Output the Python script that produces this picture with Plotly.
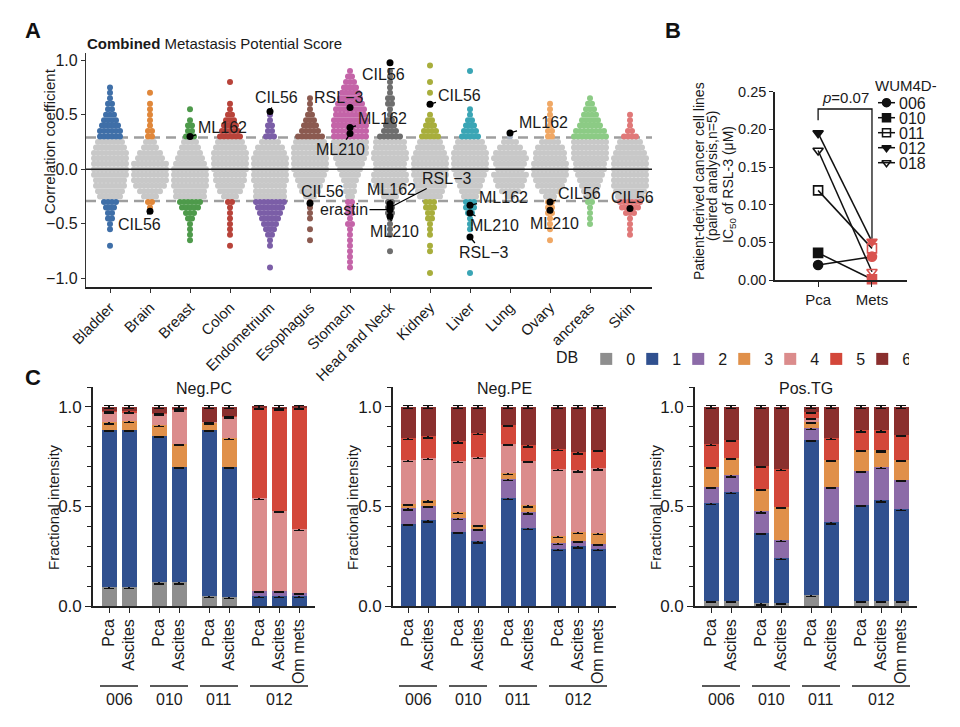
import plotly.graph_objects as go

FONT = "Liberation Sans, Arial, Helvetica, sans-serif"
INK = "#1a1a1a"

# ---------------- Panel A data ----------------
TISSUES = ["Bladder", "Brain", "Breast", "Colon", "Endometrium", "Esophagus", "Stomach",
           "Head and Neck", "Kidney", "Liver", "Lung", "Ovary", "ancreas", "Skin"]
TISSUE_COLORS = ["#3F6FA8", "#E0873A", "#4E9A4B", "#B8433A", "#7B5EA7", "#8B5A50", "#C464A8",
                 "#6E6E6E", "#A8AE3C", "#3AA5B5", "#AAB4C4", "#F0A865", "#8CCB85", "#E07878"]
GRAY = "#C8C8C8"
THRESH = 0.29
BIN = 0.05
# number of cell lines per correlation bin (bin width 0.05), starting from SWARM_START
SWARM_START = [-0.70, -0.35, -0.65, -0.70, -0.90, -0.65, -0.90, -0.75, -0.95, -0.95, -0.25, -0.65, -0.50, -0.60]
SWARM_COUNTS = [
    [1, 0, 0, 1, 1, 2, 2, 3, 4, 6, 7, 8, 8, 9, 9, 9, 9, 9, 8, 7, 6, 6, 5, 4, 3, 2, 2, 1, 1, 1],
    [1, 2, 4, 6, 8, 9, 9, 9, 9, 7, 6, 4, 3, 2, 2, 1, 1, 1, 1, 1, 0, 1],
    [1, 1, 1, 1, 2, 3, 5, 6, 8, 8, 9, 9, 9, 9, 8, 7, 6, 5, 4, 3, 2, 2, 1, 0, 1],
    [1, 0, 1, 1, 1, 1, 1, 1, 2, 4, 6, 7, 8, 8, 9, 9, 9, 9, 8, 7, 6, 5, 4, 3, 2, 1, 1, 0, 0, 0, 1],
    [1, 0, 0, 0, 1, 1, 2, 3, 4, 5, 6, 7, 8, 8, 8, 8, 9, 9, 9, 9, 9, 8, 7, 5, 3, 2, 2, 1, 1],
    [1, 0, 1, 0, 1, 1, 1, 1, 3, 5, 6, 7, 8, 9, 9, 9, 9, 9, 8, 7, 5, 4, 3, 2, 1, 1, 1],
    [1, 1, 1, 1, 1, 1, 1, 1, 2, 1, 2, 2, 2, 2, 3, 3, 4, 5, 6, 7, 8, 9, 9, 9, 9, 9, 9, 9, 8, 8, 7, 6, 5, 4, 3, 2, 1],
    [1, 0, 0, 1, 1, 1, 1, 2, 2, 2, 4, 6, 8, 9, 9, 8, 8, 9, 9, 8, 8, 6, 4, 3, 2, 1, 1, 2, 2, 1, 1, 1, 1, 1],
    [1, 0, 0, 0, 1, 1, 0, 1, 1, 1, 2, 2, 3, 3, 6, 7, 8, 8, 9, 9, 9, 9, 8, 7, 6, 5, 4, 3, 2, 1, 0, 0, 0, 1, 0, 1, 0, 0, 1],
    [1, 0, 0, 0, 0, 0, 0, 0, 1, 1, 1, 2, 3, 3, 4, 5, 6, 7, 8, 9, 9, 9, 9, 8, 7, 5, 4, 3, 2, 1, 1, 0, 0, 0, 0, 0, 0, 1],
    [2, 5, 7, 8, 9, 7, 8, 9, 8, 6, 4, 1],
    [1, 0, 1, 1, 1, 2, 2, 2, 3, 5, 7, 8, 9, 9, 9, 8, 8, 7, 5, 2, 2, 1, 1, 1, 1, 1],
    [1, 1, 1, 1, 2, 3, 4, 5, 6, 7, 8, 8, 9, 9, 9, 9, 9, 8, 6, 5, 4, 3, 2, 1],
    [1, 1, 1, 1, 3, 5, 6, 7, 8, 9, 9, 9, 9, 9, 9, 8, 7, 6, 4, 2, 1, 1, 1],
]
DRUG_TISSUE = ["Brain", "Breast", "Endometrium", "Esophagus", "Stomach", "Stomach", "Stomach",
               "Head and Neck", "Head and Neck", "Head and Neck", "Head and Neck", "Head and Neck",
               "Kidney", "Liver", "Liver", "Liver", "Lung", "Ovary", "Ovary", "Skin"]
DRUG_NAME = ["CIL56", "ML162", "CIL56", "CIL56", "RSL\u22123", "ML162", "ML210",
             "CIL56", "ML162", "RSL\u22123", "erastin", "ML210",
             "CIL56", "ML162", "ML210", "RSL\u22123", "ML162", "CIL56", "ML210", "CIL56"]
DRUG_R = [-0.385, 0.30, 0.53, -0.31, 0.566, 0.383, 0.327,
          0.975, -0.315, -0.35, -0.37, -0.43,
          0.596, -0.33, -0.40, -0.62, 0.333, -0.30, -0.376, -0.36]
LABEL_OFFSETS = [(-11, 13), (32, -9), (6, -14), (12, -12), (-12, -10), (32, -9), (-10, 16),
                 (-7, 12), (1, -14), (56, -29), (-46, 0), (4, 15),
                 (29, -9), (33, -8), (24, 13), (13, 16), (33, -10), (29, -9), (4, 13), (2, -11)]

# ---------------- Panel B data ----------------
B_PATIENTS = ["006", "010", "011", "012", "018"]
B_GROUPS = ["Pca", "Mets"]
B_PCA = [0.020, 0.036, 0.119, 0.195, 0.172]
B_METS = [0.031, 0.001, 0.042, 0.051, 0.011]
B_SYMBOLS = ["circle", "square", "square-open", "triangle-down", "triangle-down-open"]
B_PVALUE = "<i>p</i>=0.07"

# ---------------- Panel C data ----------------
C_PANELS = ["Neg.PC", "Neg.PE", "Pos.TG"]
C_SAMPLES = ["Pca", "Ascites", "Pca", "Ascites", "Pca", "Ascites", "Pca", "Ascites", "Om mets"]
C_PATIENT = ["006", "006", "010", "010", "011", "011", "012", "012", "012"]
DB_LEVELS = ["0", "1", "2", "3", "4", "5", "6"]
DB_COLORS = ["#8E8E8E", "#30508F", "#8C6BA8", "#E0904A", "#DB8C8C", "#D3473A", "#8A2F2E"]
# cumulative fraction at top of DB0..DB5 (DB6 reaches 1.0)
NEG_PC_TOPS = [
    [0.094, 0.094, 0.119, 0.119, 0.050, 0.044, 0.000, 0.000, 0.000],
    [0.883, 0.883, 0.856, 0.698, 0.883, 0.698, 0.050, 0.050, 0.050],
    [0.883, 0.883, 0.856, 0.698, 0.883, 0.698, 0.077, 0.077, 0.067],
    [0.922, 0.928, 0.908, 0.815, 0.920, 0.844, 0.077, 0.077, 0.067],
    [0.975, 0.973, 0.965, 0.987, 0.925, 0.950, 0.542, 0.478, 0.386],
    [0.980, 0.978, 0.970, 0.990, 0.925, 0.955, 0.995, 0.990, 0.995],
]
NEG_PE_TOPS = [
    [0.000, 0.000, 0.000, 0.000, 0.000, 0.000, 0.000, 0.000, 0.000],
    [0.413, 0.430, 0.374, 0.324, 0.542, 0.391, 0.285, 0.299, 0.285],
    [0.490, 0.503, 0.441, 0.388, 0.638, 0.470, 0.315, 0.329, 0.312],
    [0.513, 0.530, 0.471, 0.408, 0.668, 0.505, 0.352, 0.371, 0.366],
    [0.732, 0.743, 0.727, 0.748, 0.815, 0.730, 0.688, 0.681, 0.691],
    [0.844, 0.852, 0.827, 0.869, 0.911, 0.807, 0.789, 0.772, 0.785],
]
POS_TG_TOPS = [
    [0.027, 0.027, 0.013, 0.017, 0.055, 0.000, 0.027, 0.027, 0.027],
    [0.517, 0.572, 0.369, 0.240, 0.836, 0.420, 0.508, 0.530, 0.487],
    [0.600, 0.656, 0.475, 0.332, 0.894, 0.600, 0.680, 0.698, 0.634],
    [0.700, 0.743, 0.589, 0.497, 0.925, 0.735, 0.785, 0.782, 0.732],
    [0.700, 0.743, 0.589, 0.497, 0.945, 0.735, 0.785, 0.782, 0.732],
    [0.814, 0.835, 0.705, 0.688, 0.975, 0.844, 0.882, 0.882, 0.861],
]
C_TOPS = [NEG_PC_TOPS, NEG_PE_TOPS, POS_TG_TOPS]
C_ERR = 0.007

W, H = 960, 727


def px_x(p):
    return p / W


def px_y(p):
    return 1 - p / H


def paper_text(x, y, text, size=15, angle=0, xanchor="center", **kw):
    fig.add_annotation(x=px_x(x), y=px_y(y), xref="paper", yref="paper", text=text,
                       textangle=angle, showarrow=False, xanchor=xanchor, yanchor="middle",
                       font=dict(size=size, color=kw.pop("color", INK)), **kw)


fig = go.Figure()
fig.update_layout(template="none")

# ======================= Panel A =======================
gx, gy, cx, cy, cc = [], [], [], [], []
for k, (start, counts) in enumerate(zip(SWARM_START, SWARM_COUNTS)):
    for j, n in enumerate(counts):
        r = round(start + BIN * j, 3)
        for i in range(n):
            xv = k + (i - (n - 1) / 2) * 0.1
            if abs(r) > THRESH:
                cx.append(xv); cy.append(r); cc.append(TISSUE_COLORS[k])
            else:
                gx.append(xv); gy.append(r)

fig.add_trace(go.Scatter(x=gx, y=gy, mode="markers", xaxis="x", yaxis="y",
                         marker=dict(size=6, color=GRAY, line=dict(width=0)),
                         showlegend=False, hoverinfo="skip"))
fig.add_trace(go.Scatter(x=cx, y=cy, mode="markers", xaxis="x", yaxis="y",
                         marker=dict(size=6, color=cc, line=dict(width=0)),
                         showlegend=False, hoverinfo="skip"))
dx = [TISSUES.index(t) for t in DRUG_TISSUE]
fig.add_trace(go.Scatter(x=dx, y=DRUG_R, mode="markers", xaxis="x", yaxis="y",
                         marker=dict(size=7, color="black"), showlegend=False, hoverinfo="skip"))
for xi, yi, name, (ox, oy) in zip(dx, DRUG_R, DRUG_NAME, LABEL_OFFSETS):
    fig.add_annotation(x=xi, y=yi, xref="x", yref="y", text=name, showarrow=True,
                       arrowhead=0, arrowwidth=1.3, arrowcolor="black", ax=ox, ay=oy,
                       standoff=0, startstandoff=0, font=dict(size=16, color=INK))

for yv in (THRESH, -THRESH):
    fig.add_shape(type="line", xref="x domain", yref="y", x0=0, x1=1, y0=yv, y1=yv,
                  line=dict(color="#9E9E9E", width=2.5, dash="10px,6px"), layer="below")
fig.add_shape(type="line", xref="x domain", yref="y", x0=0, x1=1, y0=0, y1=0,
              line=dict(color="#222", width=1.6), layer="above")

fig.update_layout(
    xaxis=dict(domain=[px_x(86), px_x(652)], range=[-0.6, 13.55], tickvals=list(range(len(TISSUES))),
               ticktext=TISSUES, tickangle=-45, ticks="outside", ticklen=4, tickcolor="#333",
               showline=True, linecolor="#222", linewidth=2, showgrid=False, zeroline=False,
               tickfont=dict(size=15), anchor="y", automargin=False),
    yaxis=dict(domain=[px_y(287), px_y(53)], range=[-1.078, 1.065], tickvals=[-1, -0.5, 0, 0.5, 1],
               tickformat=".1f", ticks="outside", ticklen=4, tickcolor="#333", showline=True,
               linecolor="#333", linewidth=1.3, showgrid=False, zeroline=False,
               tickfont=dict(size=16), anchor="x", automargin=False),
)
paper_text(50, 141, "Correlation coefficient", size=15, angle=-90)
paper_text(85, 43, "<b>Combined</b> Metastasis Potential Score", size=15, xanchor="left")

# ======================= Panel B =======================
for p, pca, mets, sym in zip(B_PATIENTS, B_PCA, B_METS, B_SYMBOLS):
    cols = ["#111111", "#D9534F"]
    fig.add_trace(go.Scatter(x=[0, 1], y=[pca, mets], mode="lines+markers", xaxis="x2", yaxis="y2",
                             line=dict(color="#111", width=1.5),
                             marker=dict(symbol=sym, size=9, color=cols, line=dict(color=cols, width=1.6)),
                             cliponaxis=False, showlegend=False, hoverinfo="skip", name=p))
# significance bracket
top_pca, top_mets = max(B_PCA), max(B_METS)
fig.add_shape(type="path", xref="x2", yref="y2",
              path=f"M0,{top_pca + 0.017} L0,0.227 L1,0.227 L1,{top_mets + 0.004}",
              line=dict(color="#111", width=1.3))
fig.add_annotation(x=0.5, y=0.228, xref="x2", yref="y2", text=B_PVALUE, showarrow=False,
                   xanchor="center", yanchor="bottom", font=dict(size=15, color=INK))
fig.update_layout(
    xaxis2=dict(domain=[px_x(775), px_x(907)], range=[-0.8, 1.65], tickvals=[0, 1], ticktext=B_GROUPS,
                ticks="outside", ticklen=5, tickcolor="#222", showline=True, linecolor="#222",
                linewidth=1.5, showgrid=False, zeroline=False, tickfont=dict(size=15), anchor="y2",
                automargin=False),
    yaxis2=dict(domain=[px_y(280), px_y(91.7)], range=[0, 0.25], dtick=0.05, tickformat=".2f",
                ticks="outside", ticklen=4, tickcolor="#222", showline=True, linecolor="#222",
                linewidth=1.5, showgrid=False, zeroline=False, tickfont=dict(size=14.5), anchor="x2",
                automargin=False),
)
paper_text(699, 181, "Patient-derived cancer cell lines", size=14, angle=-90)
paper_text(712, 176, "(paired analysis,n=5)", size=14, angle=-90)
paper_text(729, 185, "IC<sub>50</sub> of RSL-3 (\u03bcM)", size=14, angle=-90)

# custom legend for panel B (hidden helper axis, pixel units)
fig.update_layout(
    xaxis6=dict(domain=[px_x(873), px_x(945)], range=[0, 72], visible=False, fixedrange=True,
                anchor="y6", automargin=False),
    yaxis6=dict(domain=[px_y(172), px_y(78)], range=[94, 0], visible=False, fixedrange=True,
                anchor="x6", automargin=False),
)
fig.add_annotation(x=0, y=8, xref="x6", yref="y6", text="WUM4D-", xanchor="left", yanchor="middle",
                   showarrow=False, height=15, font=dict(size=15, color=INK))
for i, (p, sym) in enumerate(zip(B_PATIENTS, B_SYMBOLS)):
    row = 24.7 + 15 * i
    fig.add_trace(go.Scatter(x=[5, 22], y=[row, row], mode="lines", xaxis="x6", yaxis="y6",
                             line=dict(color="#111", width=1.5), showlegend=False, hoverinfo="skip"))
    fig.add_trace(go.Scatter(x=[13.5], y=[row], mode="markers", xaxis="x6", yaxis="y6",
                             marker=dict(symbol=sym, size=8, color="#111", line=dict(color="#111", width=1.5)),
                             showlegend=False, hoverinfo="skip", cliponaxis=False))
    fig.add_annotation(x=24, y=row, xref="x6", yref="y6", text=p, xanchor="left", yanchor="middle",
                       showarrow=False, height=14, font=dict(size=16, color=INK))

# ======================= Panel C =======================
# bar positions: 1 unit within a patient, 1.5 between patients
C_POS = []
pos = 0.0
for i, pt in enumerate(C_PATIENT):
    if i > 0:
        pos += 1.0 if pt == C_PATIENT[i - 1] else 1.5
    C_POS.append(pos)

C_XDOMAINS = [(93, 315), (393, 616), (695, 917)]
C_XRANGES = [(-0.8, 10.3), (-0.75, 10.4), (-0.8, 10.3)]
C_YTITLE_X = [53, 352, 655]
C_YDOM = [px_y(606), px_y(387)]

for pi, (title, tops) in enumerate(zip(C_PANELS, C_TOPS)):
    ax_id = pi + 3
    xa, ya = f"x{ax_id}", f"y{ax_id}"
    full = tops + [[1.0] * len(C_SAMPLES)]
    for d, lvl in enumerate(DB_LEVELS):
        seg = [round(full[d][b] - (full[d - 1][b] if d > 0 else 0.0), 4) for b in range(len(C_SAMPLES))]
        err = [C_ERR if (s > 0 or d == 0) else 0 for s in seg]
        fig.add_trace(go.Bar(x=C_POS, y=seg, xaxis=xa, yaxis=ya, width=0.75, name=lvl,
                             marker=dict(color=DB_COLORS[d], line=dict(width=0)),
                             error_y=dict(type="data", array=err, color="#111", thickness=1.6, width=5),
                             legend="legend2", legendgroup=lvl, showlegend=(pi == 0), hoverinfo="skip"))
    fig.layout[f"xaxis{ax_id}"] = dict(
        domain=[px_x(C_XDOMAINS[pi][0]), px_x(C_XDOMAINS[pi][1])], range=list(C_XRANGES[pi]),
        tickvals=C_POS, ticktext=C_SAMPLES, tickangle=-90, ticks="outside", ticklen=5, tickcolor="#222",
        showline=True, linecolor="#222", linewidth=1.6, showgrid=False, zeroline=False,
        tickfont=dict(size=16), anchor=ya, automargin=False)
    fig.layout[f"yaxis{ax_id}"] = dict(
        domain=C_YDOM, range=[0, 1.1], tickvals=[0, 0.5, 1.0], tickformat=".1f", ticks="outside",
        ticklen=6, tickcolor="#222", minor=dict(dtick=0.1, ticks="outside", ticklen=4, tickcolor="#222"),
        showline=True, linecolor="#222", linewidth=1.6, showgrid=False, zeroline=False,
        tickfont=dict(size=17), anchor=xa, automargin=False)
    cxm = (C_XDOMAINS[pi][0] + C_XDOMAINS[pi][1]) / 2
    paper_text(cxm, 388, title, size=16)
    paper_text(C_YTITLE_X[pi], 507, "Fractional intensity", size=15, angle=-90)
    # patient group underlines and labels
    seen = []
    for pt in C_PATIENT:
        if pt not in seen:
            seen.append(pt)
    for pt in seen:
        xs_pt = [C_POS[i] for i in range(len(C_PATIENT)) if C_PATIENT[i] == pt]
        fig.add_shape(type="line", xref=xa, yref="paper", x0=min(xs_pt) - 0.45, x1=max(xs_pt) + 0.45,
                      y0=px_y(686), y1=px_y(686), line=dict(color="#222", width=1.3))
        fig.add_annotation(x=(min(xs_pt) + max(xs_pt)) / 2, y=px_y(699), xref=xa, yref="paper",
                           text=pt, showarrow=False, xanchor="center", yanchor="middle",
                           font=dict(size=16, color=INK))

fig.update_layout(
    legend2=dict(orientation="h", x=px_x(554), y=px_y(359), xanchor="left", yanchor="middle",
                 title=dict(text="DB", side="left", font=dict(size=16)), font=dict(size=16),
                 bgcolor="rgba(0,0,0,0)", entrywidth=1, entrywidthmode="pixels", traceorder="normal",
                 itemclick=False, itemdoubleclick=False),
)

# panel letters
for letter, lx, ly in [("A", 33, 31), ("B", 673, 31), ("C", 33, 377)]:
    paper_text(lx, ly, f"<b>{letter}</b>", size=22, color="#111")

fig.update_layout(width=W, height=H, margin=dict(l=0, r=0, t=0, b=0, autoexpand=False), barmode="stack",
                  paper_bgcolor="white", plot_bgcolor="white",
                  font=dict(family=FONT, size=15, color=INK), showlegend=True)

fig.write_html("out.html", config={"displayModeBar": False},
               post_script="document.body.style.margin='0';document.body.style.overflow='hidden';")
